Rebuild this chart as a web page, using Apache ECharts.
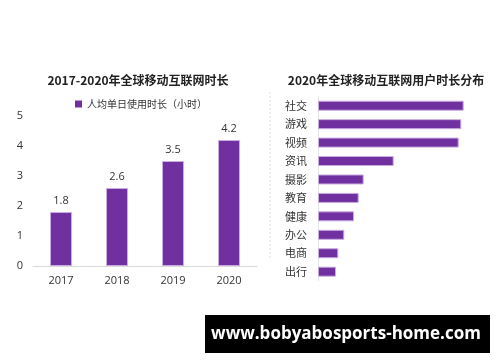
<!DOCTYPE html>
<html><head><meta charset="utf-8">
<script src="https://cdn.jsdelivr.net/npm/echarts@6/dist/echarts.min.js"></script>
<style>html,body{margin:0;padding:0;background:#fff}#c{width:500px;height:362px}</style>
</head><body><div id="c"></div>
<script>
const years = ['2017', '2018', '2019', '2020'];
const hours = [1.8, 2.6, 3.5, 4.2];
const yTicks = [0, 1, 2, 3, 4, 5];
const categories = ['社交', '游戏', '视频', '资讯', '摄影', '教育', '健康', '办公', '电商', '出行'];
const shares = [145.7, 143.3, 140.7, 75.7, 45.7, 40.7, 36, 26.3, 20.3, 18];

const PURPLE = '#7030a0';
const FONT = '"Open Sans","Noto Sans CJK SC",sans-serif';
const CJK = '"Noto Sans CJK SC",sans-serif';
const chart = echarts.init(document.getElementById('c'));
chart.setOption({
  animation: false,
  textStyle: { fontFamily: FONT },
  title: [
    { text: '2017-2020年全球移动互联网时长', left: 133, top: 69, textAlign: 'center',
      textStyle: { fontSize: 12, fontWeight: 'bold', color: '#222', fontFamily: CJK } },
    { text: '2020年全球移动互联网用户时长分布', left: 381, top: 69, textAlign: 'center',
      textStyle: { fontSize: 12, fontWeight: 'bold', color: '#222', fontFamily: CJK } }
  ],
  legend: {
    left: 70, top: 94, itemWidth: 7, itemHeight: 7, itemGap: 4,
    icon: 'rect',
    itemStyle: { borderWidth: 0 },
    data: ['人均单日使用时长（小时）'],
    textStyle: { fontSize: 10, color: '#333', fontFamily: CJK }
  },
  grid: [
    { left: 33, width: 224, top: 116, height: 150 },
    { left: 318, width: 150, top: 96.5, height: 184.4 }
  ],
  xAxis: [
    { gridIndex: 0, type: 'category', data: years,
      axisLine: { lineStyle: { color: '#d9d9d9' } }, axisTick: { show: false },
      axisLabel: { fontSize: 11, color: '#333', margin: 9 } },
    { gridIndex: 1, type: 'value', min: 0, max: 150, show: false, splitLine: { show: false } }
  ],
  yAxis: [
    { gridIndex: 0, type: 'value', min: yTicks[0], max: yTicks[yTicks.length - 1], interval: 1,
      axisLine: { show: false }, axisTick: { show: false }, splitLine: { show: false },
      axisLabel: { fontSize: 11, color: '#333', margin: 10 } },
    { gridIndex: 1, type: 'category', data: categories, inverse: true,
      axisLine: { show: true, lineStyle: { color: '#e6e6e6' } }, axisTick: { show: false },
      axisLabel: { fontSize: 11, color: '#333', margin: 11, fontFamily: CJK } }
  ],
  series: [
    { name: '人均单日使用时长（小时）', type: 'bar', xAxisIndex: 0, yAxisIndex: 0, data: hours,
      barWidth: 22,
      itemStyle: { color: PURPLE, borderColor: '#c9ace0', borderWidth: 1 },
      label: { show: true, position: 'top', fontSize: 11, color: '#333', distance: 6 } },
    { name: 'dist', type: 'bar', xAxisIndex: 1, yAxisIndex: 1, data: shares,
      barWidth: 10,
      itemStyle: { color: PURPLE, borderColor: '#c9ace0', borderWidth: 1 } }
  ],
  graphic: [
    { type: 'line', shape: { x1: 270, y1: 92, x2: 270, y2: 260 },
      style: { stroke: '#e0e0e0', lineWidth: 1, lineDash: [2, 2] } },
    { type: 'rect', shape: { x: 205, y: 315, width: 285, height: 38 },
      style: { fill: '#000' } },
    { type: 'text', x: 346, y: 334,
      style: { text: 'www.bobyabosports-home.com', fill: '#fff', fontSize: 17, fontWeight: 'bold',
        fontFamily: '"Open Sans",sans-serif', textAlign: 'center', textVerticalAlign: 'middle' } }
  ]
});
</script></body></html>
